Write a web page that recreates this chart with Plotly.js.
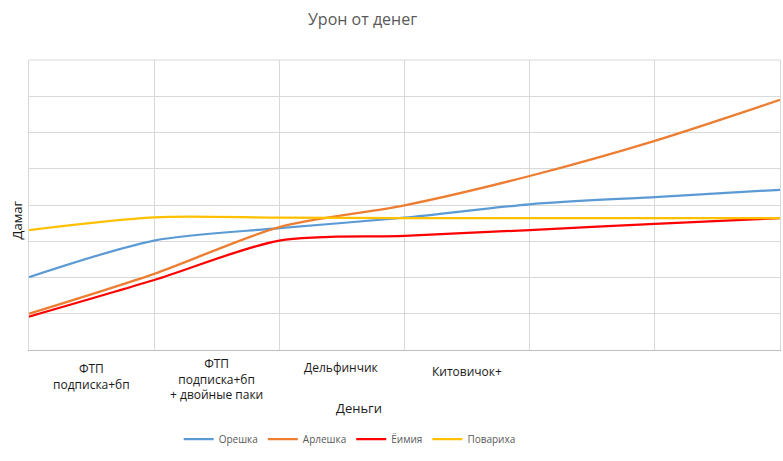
<!DOCTYPE html>
<html>
<head>
<meta charset="utf-8">
<script src="https://cdn.plot.ly/plotly-3.0.1.min.js"></script>
<style>html,body{margin:0;padding:0;background:#fff;}#chart{width:783px;height:461px;}</style>
</head>
<body>
<div id="chart"></div>
<script>
var xPoints = [0, 1, 2, 3, 4, 5, 6];
var categoryLabels = ['ФТП<br>подписка+бп', 'ФТП<br>подписка+бп<br>+ двойные паки', 'Дельфинчик', 'Китовичок+'];
var oreshka = [2.01, 3.02, 3.36, 3.65, 4.02, 4.22, 4.42];
var arleshka = [1.00, 2.10, 3.39, 3.99, 4.80, 5.77, 6.90];
var yoimiya = [0.92, 1.93, 3.02, 3.15, 3.31, 3.48, 3.64];
var povarikha = [3.31, 3.66, 3.65, 3.64, 3.64, 3.64, 3.64];
var seriesNames = ['Орешка', 'Арлешка', 'Ёимия', 'Повариха'];
var seriesColors = ['#5b9bd5', '#ed7d31', '#ff0000', '#ffc000'];
var seriesData = [oreshka, arleshka, yoimiya, povarikha];

var traces = seriesData.map(function (ys, i) {
  return {
    x: xPoints, y: ys, name: seriesNames[i], type: 'scatter', mode: 'lines',
    line: {color: seriesColors[i], width: 2.25, shape: 'spline', smoothing: 0.8},
    hoverinfo: 'skip'
  };
});

var labelYs = [-0.09, -0.1, -0.06, -0.075];
var annotations = categoryLabels.map(function (t, i) {
  return {
    x: xPoints[i] + 0.5, xref: 'x', y: labelYs[i], yref: 'paper',
    text: t, showarrow: false, yanchor: 'middle', xanchor: 'center',
    font: {family: 'Open Sans, sans-serif', size: 12, color: '#1a1a1a'}
  };
});
annotations.push({
  x: 0.44, xref: 'paper', y: -0.2, yref: 'paper', text: 'Деньги', showarrow: false,
  yanchor: 'middle', font: {family: 'Open Sans, sans-serif', size: 13, color: '#1a1a1a'}
});
annotations.push({
  x: -0.016, xref: 'paper', y: 0.45, yref: 'paper', text: 'Дамаг', showarrow: false,
  textangle: -90, xanchor: 'center', yanchor: 'middle',
  font: {family: 'Open Sans, sans-serif', size: 13, color: '#1a1a1a'}
});

var layout = {
  width: 783, height: 461,
  margin: {l: 29, r: 3, t: 60, b: 111},
  paper_bgcolor: '#fff', plot_bgcolor: '#fff',
  title: {text: 'Урон от денег', x: 0.463, xanchor: 'center', y: 0.958, yanchor: 'middle',
          font: {family: 'Open Sans, sans-serif', size: 16, color: '#595959'}},
  xaxis: {range: [0, 6], tickvals: xPoints, showticklabels: false, ticks: '',
          showgrid: true, gridcolor: '#d9d9d9', gridwidth: 1, zeroline: false,
          showline: true, linecolor: '#bfbfbf', linewidth: 1, fixedrange: true},
  yaxis: {range: [0, 8], dtick: 1, showticklabels: false, ticks: '',
          showgrid: true, gridcolor: '#d9d9d9', gridwidth: 1, zeroline: false,
          showline: true, linecolor: '#d9d9d9', linewidth: 1, mirror: true, fixedrange: true},
  shapes: [{type: 'line', xref: 'paper', yref: 'paper', x0: 0, x1: 1, y0: 1, y1: 1,
            line: {color: '#d9d9d9', width: 1}, layer: 'below'}],
  showlegend: true,
  legend: {orientation: 'h', x: 0.427, xanchor: 'center', y: -0.307, yanchor: 'middle',
           font: {family: 'Open Sans, sans-serif', size: 10, color: '#595959'},
           itemwidth: 30},
  annotations: annotations
};

Plotly.newPlot('chart', traces, layout, {displayModeBar: false, staticPlot: true});
</script>
</body>
</html>
